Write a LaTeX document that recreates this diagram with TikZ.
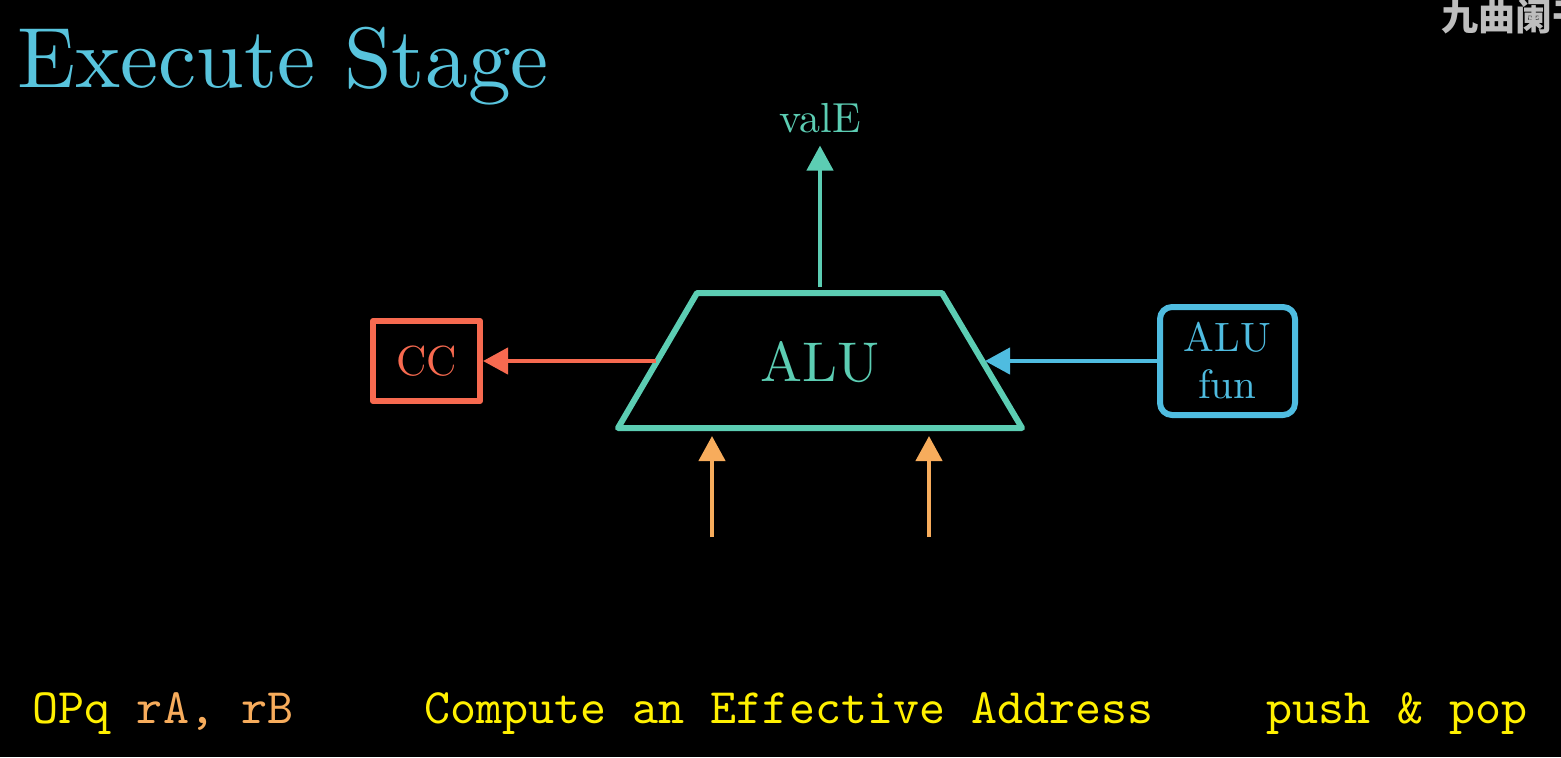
\documentclass[tikz,border=0pt]{standalone}
\usepackage{fontspec}
\newfontfamily\cjk{Noto Sans CJK SC}
\newfontfamily\lmten{lmroman10-regular}[Extension=.otf]
\newfontfamily\lmtt{lmmono10-regular}[Extension=.otf]
\usetikzlibrary{arrows.meta}
\definecolor{titleblue}{HTML}{58C4DD}
\definecolor{funblue}{HTML}{4FBCE0}
\definecolor{aluteal}{HTML}{5CCDB3}
\definecolor{ccred}{HTML}{F76A50}
\definecolor{inorange}{HTML}{F7AC5C}
\definecolor{textyellow}{HTML}{FFF000}
\definecolor{markgrey}{HTML}{BEBEBE}
\begin{document}
\begin{tikzpicture}[x=0.5pt, y=-0.5pt,
		arr/.style={line width=2.2pt, -{Triangle[length=12.5pt,width=13pt]}},
		unit/.style={line width=3pt, line join=round},
		bottomtext/.style={anchor=base, inner sep=0pt, text=textyellow, font=\lmtt\fontsize{24.8}{26}\selectfont}]
			\fill[black] (0,0) rectangle (1561,757);
			\useasboundingbox (0,0) rectangle (1561,757);
			\begin{scope}
				\clip (0,0) rectangle (1561,757);
				\node[anchor=base west, inner sep=0pt, text=markgrey, font=\cjk\bfseries\fontsize{18.5}{19}\selectfont] (mark) at (1441,30) {九曲阑干};
			\end{scope}
			\node[anchor=base west, inner sep=0pt, text=titleblue, font=\lmten\fontsize{42.8}{48}\selectfont] (title) at (17,87) {Execute Stage};
			\coordinate (tl) at (697,293);
			\coordinate (tr) at (942,293);
			\coordinate (br) at (1022,428);
			\coordinate (bl) at (618,428);
			\draw[unit, aluteal] (tl) -- (tr) -- (br) -- (bl) -- cycle;
			\node[text=aluteal, font=\lmten\fontsize{28}{30}\selectfont] (alu) at (820,362) {ALU};
			\coordinate (alutop) at (820,287);
			\coordinate (aluleft) at (656,361);
			\coordinate (aluright) at (985,361);
			\coordinate (inA) at (712,537);
			\coordinate (inAtip) at (712,436);
			\coordinate (inB) at (929,537);
			\coordinate (inBtip) at (929,436);
			\node[anchor=base, text=aluteal, font=\lmten\fontsize{21}{22}\selectfont] (valE) at (820,132) {valE};
			\node[unit, draw=ccred, text=ccred, minimum width=53.5pt, minimum height=40pt, font=\lmten\fontsize{21}{24}\selectfont] (cc) at (426.5,361) {CC};
			\node[unit, draw=funblue, text=funblue, rounded corners=6pt, minimum width=67.5pt, minimum height=54pt, align=center, font=\lmten\fontsize{20.5}{23.5}\selectfont] (alufun) at (1227.5,361) {ALU\\fun};
			\draw[arr, aluteal, shorten >=3pt] (alutop) -- (alutop |- valE.south);
			\draw[arr, ccred] (aluleft) -- (cc.east);
			\draw[arr, funblue] (alufun.west) -- (aluright);
			\draw[arr, inorange] (inA) -- (inAtip);
			\draw[arr, inorange] (inB) -- (inBtip);
			\node[bottomtext] (instr) at (163,723) {OPq \textcolor{inorange}{rA, rB}};
			\node[bottomtext] (addr) at (789,723) {Compute an Effective Address};
			\node[bottomtext] (stack) at (1397,723) {push \& pop};
		\end{tikzpicture}
\end{document}
